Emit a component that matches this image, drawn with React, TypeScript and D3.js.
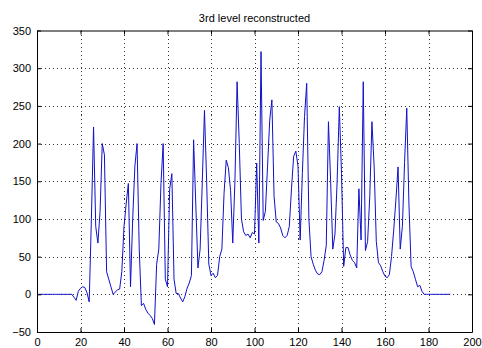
import React, { useRef, useEffect } from "react";
import * as d3 from "d3";

// sample values, one per x = 0..190
const yValues: number[] = [
  0, 0, 0, 0, 0, 0, 0, 0, 0, 0,
  0, 0, 0, 0, 0, 0, 0, -4, -8, 4,
  8, 10, 9, 2, -10, 100, 222, 90, 68, 110,
  200, 185, 30, 20, 10, 0, 3, 6, 7, 30,
  90, 120, 147, 10, 100, 170, 200, 60, -15, -12,
  -20, -25, -28, -32, -40, 40, 60, 147, 200, 20,
  10, 140, 160, 20, 1, 1, -5, -10, -3, 8,
  15, 25, 205, 120, 35, 60, 150, 244, 150, 40,
  25, 28, 22, 25, 50, 60, 134, 178, 168, 138,
  68, 150, 282, 200, 100, 83, 78, 80, 75, 82,
  80, 174, 68, 322, 98, 110, 170, 231, 258, 130,
  96, 94, 88, 78, 75, 78, 90, 140, 183, 190,
  170, 72, 160, 236, 280, 100, 50, 40, 32, 27,
  26, 30, 45, 65, 229, 150, 60, 80, 150, 249,
  160, 37, 62, 62, 52, 45, 42, 35, 140, 72,
  282, 58, 70, 130, 229, 170, 70, 42, 38, 30,
  24, 22, 26, 50, 85, 125, 169, 60, 90, 175,
  247, 120, 37, 30, 20, 10, 12, 4, 0, 0,
  0, 0, 0, 0, 0, 0, 0, 0, 0, 0,
  0,
];
const xTicks = [0, 20, 40, 60, 80, 100, 120, 140, 160, 180, 200];
const yTicks = [-50, 0, 50, 100, 150, 200, 250, 300, 350];
const title = "3rd level reconstructed";

const W = 482;
const H = 348;
const margin = { top: 30.5, right: 10, bottom: 16, left: 37 };

const Chart = () => {
  const ref = useRef<SVGSVGElement>(null);

  useEffect(() => {
    const svg = d3.select(ref.current);
    svg.selectAll("*").remove();

    const x = d3.scaleLinear().domain([0, 200]).range([margin.left, W - margin.right]);
    const y = d3.scaleLinear().domain([-50, 350]).range([H - margin.bottom, margin.top]);
    const font = "'Liberation Sans', Arial, sans-serif";

    svg.append("rect").attr("width", W).attr("height", H).attr("fill", "#fff");

    // dotted grid
    const grid = svg.append("g").attr("stroke", "#000").attr("stroke-width", 0.8)
      .attr("stroke-dasharray", "1,3").attr("shape-rendering", "crispEdges");
    grid.selectAll(".gx").data(xTicks.slice(1, -1)).enter().append("line")
      .attr("x1", d => Math.round(x(d)) + 0.5).attr("x2", d => Math.round(x(d)) + 0.5)
      .attr("y1", y(350)).attr("y2", y(-50));
    grid.selectAll(".gy").data(yTicks.slice(1, -1)).enter().append("line")
      .attr("y1", d => Math.round(y(d)) + 0.5).attr("y2", d => Math.round(y(d)) + 0.5)
      .attr("x1", x(0)).attr("x2", x(200));

    // signal
    const line = d3.line<number>().x((_, i) => x(i)).y(d => y(d));
    svg.append("path").datum(yValues).attr("d", line).attr("fill", "none")
      .attr("stroke", "#1010c8").attr("stroke-width", 1).attr("stroke-linejoin", "round");

    // axes with inward ticks, box on
    const axB = svg.append("g").attr("transform", `translate(0,${y(-50)})`)
      .call(d3.axisBottom(x).tickValues(xTicks).tickSizeInner(-4).tickSizeOuter(0).tickPadding(6));
    const axT = svg.append("g").attr("transform", `translate(0,${y(350)})`)
      .call(d3.axisTop(x).tickValues(xTicks).tickSizeInner(-4).tickSizeOuter(0).tickFormat(() => ""));
    const axL = svg.append("g").attr("transform", `translate(${x(0)},0)`)
      .call(d3.axisLeft(y).tickValues(yTicks).tickSizeInner(-4).tickSizeOuter(0).tickPadding(6));
    const axR = svg.append("g").attr("transform", `translate(${x(200)},0)`)
      .call(d3.axisRight(y).tickValues(yTicks).tickSizeInner(-4).tickSizeOuter(0).tickFormat(() => ""));
    [axB, axT, axL, axR].forEach(a => {
      a.selectAll("text").attr("font-family", font).attr("font-size", 11).attr("fill", "#000");
      a.selectAll("line").attr("stroke", "#000");
      a.select(".domain").attr("stroke", "#000");
    });

    svg.append("text").attr("x", (x(0) + x(200)) / 2).attr("y", 22)
      .attr("text-anchor", "middle").attr("font-family", font).attr("font-size", 11)
      .text(title);
  }, []);

  return <svg ref={ref} width={W} height={H} style={{ display: "block" }} />;
};

export default function App() {
  return (
    <div style={{ position: "absolute", left: 0, top: 0 }}>
      <Chart />
    </div>
  );
}
